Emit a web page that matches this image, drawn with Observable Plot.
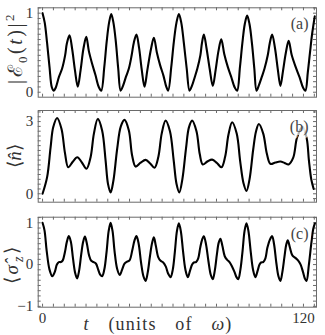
<!DOCTYPE html>
<html>
<head>
<meta charset="utf-8">
<script src="https://cdn.jsdelivr.net/npm/d3@7"></script>
<script src="https://cdn.jsdelivr.net/npm/@observablehq/plot@0.6"></script>
<style>
  html, body { margin: 0; padding: 0; background: #fff; }
  #wrap { position: relative; width: 325px; height: 335px; overflow: hidden; font-family: "Liberation Serif", serif; color: #333; }
  #wrap svg text { font-family: "Liberation Serif", serif !important; }
  .panel { position: absolute; left: 0; }
  .ylab { position: absolute; transform: translate(-50%, -50%) rotate(-90deg); white-space: nowrap; font-family: "Liberation Serif", serif; font-size: 19px; line-height: 1; }
  .xlab { position: absolute; transform: translate(-50%, -50%); white-space: nowrap; font-family: "Liberation Serif", serif; font-size: 18px; line-height: 1; letter-spacing: 1.2px; word-spacing: 13px; }
  i { font-style: italic; }
</style>
</head>
<body>
<div id="wrap"></div>
<script>
// ---- data ----
// panel (a): |E0(t)|^2
const tA = [0, 1.0, 2.1, 3.2, 4.3, 5.2, 6.1, 7.5, 9.0, 10.4, 11.2, 12.4, 13.6, 14.9, 16.2, 17.5, 18.8, 20.1, 21.3, 22.8, 24.3, 25.8, 27.0, 28.4, 29.5, 30.6, 31.6,
            32.6, 33.7, 34.8, 35.9, 37.0, 38.3, 39.7, 41.0, 42.0, 43.2, 44.4, 45.6, 46.9, 48.2, 49.9, 51.2, 52.6, 54.1, 55.6, 56.9, 57.8, 59.2, 60.4, 61.6, 62.7,
            63.8, 65.0, 66.3, 67.6, 68.7, 70.0, 71.2, 72.6, 73.3, 74.2, 75.4, 76.9, 78.3, 79.6, 80.9, 82.2, 83.6, 85.2, 86.7, 88.4, 89.5, 90.8, 91.9, 93.0, 94.1,
            95.2, 96.3, 97.4, 98.4, 99.4, 100.8, 102.1, 103.6, 104.5, 105.6, 106.9, 108.2, 109.4, 110.6, 111.9, 113.2, 114.6, 116.4, 118.2, 119.8, 120.9, 122.0, 123.0, 124.0, 125.2];
const eA = [1.0, 0.88, 0.62, 0.32, 0.06, 0.02, 0.06, 0.19, 0.30, 0.47, 0.62, 0.72, 0.55, 0.28, 0.07, 0.28, 0.55, 0.70, 0.52, 0.36, 0.22, 0.07, 0.02, 0.32, 0.64, 0.88, 0.99,
            0.88, 0.64, 0.30, 0.02, 0.08, 0.19, 0.30, 0.47, 0.63, 0.73, 0.56, 0.29, 0.07, 0.28, 0.55, 0.69, 0.50, 0.34, 0.21, 0.07, 0.02, 0.32, 0.64, 0.88, 0.99,
            0.88, 0.62, 0.30, 0.02, 0.08, 0.19, 0.30, 0.47, 0.62, 0.73, 0.56, 0.29, 0.08, 0.28, 0.52, 0.67, 0.48, 0.32, 0.20, 0.06, 0.02, 0.32, 0.62, 0.86, 0.97,
            0.86, 0.62, 0.30, 0.02, 0.08, 0.19, 0.30, 0.47, 0.62, 0.73, 0.56, 0.29, 0.08, 0.27, 0.50, 0.65, 0.47, 0.32, 0.19, 0.06, 0.02, 0.25, 0.50, 0.74, 0.96];
// panel (b): <n>
const tB = [0, 2.1, 3.7, 4.9, 6.7, 8.7, 10.3, 11.8, 13.9, 16.0, 18.1, 20.2, 22.1, 23.6, 25.4, 27.4, 29.0, 30.1, 31.3,
            32.6, 34.3, 36.0, 37.7, 39.7, 41.2, 42.8, 45.1, 47.4, 49.5, 51.5, 53.3, 54.8, 56.6, 58.6, 60.3, 61.6, 62.9,
            64.3, 66.0, 67.3, 68.8, 70.8, 72.3, 73.7, 75.8, 78.0, 80.2, 82.3, 84.0, 85.5, 87.2, 89.3, 90.9, 92.4, 93.8,
            95.2, 96.9, 98.2, 99.5, 101.5, 103.2, 104.8, 107.1, 109.4, 111.3, 113.2, 115.3, 117.1, 119.6, 121.5, 122.5, 123.6, 124.7];
const nB = [0, 0.69, 1.93, 2.76, 3.15, 2.70, 1.70, 1.10, 1.33, 1.52, 1.30, 1.04, 1.52, 2.49, 3.11, 2.63, 1.38, 0.41, 0.05,
            0.55, 1.85, 2.80, 3.07, 2.63, 1.59, 1.13, 1.29, 1.41, 1.26, 1.08, 1.55, 2.50, 3.04, 2.60, 1.40, 0.42, 0.06,
            0.60, 1.90, 2.75, 3.04, 2.60, 1.65, 1.22, 1.34, 1.42, 1.28, 1.10, 1.55, 2.45, 2.97, 2.50, 1.35, 0.45, 0.12,
            0.60, 1.85, 2.60, 2.90, 2.50, 1.65, 1.24, 1.30, 1.34, 1.28, 1.22, 1.50, 2.35, 2.78, 2.30, 1.40, 0.60, 0.20];
// panel (c): <sigma_z>
const tC = [0, 0.9, 1.9, 3.2, 4.5, 5.6, 6.6, 7.5, 8.5, 9.3, 10.3, 11.2, 12.1, 13.0, 14.0, 15.0, 15.9, 16.8, 17.8, 18.7, 19.5, 20.4, 21.4, 22.4, 23.5, 24.6, 25.6, 26.5, 27.4, 28.4, 29.5, 30.4, 31.3,
            32.2, 33.1, 34.3, 35.5, 36.6, 37.7, 38.9, 40.0, 41.3, 42.3, 43.2, 44.2, 45.3, 46.4, 47.4, 48.4, 49.4, 50.4, 51.2, 52.1, 53.2, 54.3, 55.5, 56.7, 57.8, 58.9, 59.9, 60.9, 61.8, 62.7,
            63.6, 64.6, 65.7, 66.8, 67.8, 68.8, 69.6, 70.6, 71.6, 72.5, 73.4, 74.2, 75.2, 76.3, 77.4, 78.3, 79.2, 80.2, 81.0, 81.8, 82.7, 83.8, 84.8, 86.0, 87.2, 88.3, 89.2, 90.0, 91.0, 92.0, 92.9, 93.8,
            94.7, 95.7, 96.8, 97.9, 98.9, 99.8, 100.5, 101.5, 102.5, 103.4, 104.6, 105.6, 106.5, 107.5, 108.5, 109.4, 110.3, 111.3, 112.1, 112.8, 113.7, 114.9, 116.3, 117.5, 118.7, 119.8, 120.7, 121.4, 122.5, 123.6, 124.5, 125.3];
const sC = [1.0, 0.82, 0.33, -0.12, -0.28, -0.18, 0.0, 0.06, 0.06, 0.10, 0.30, 0.55, 0.68, 0.55, 0.15, -0.20, -0.33, -0.15, 0.25, 0.55, 0.67, 0.50, 0.22, 0.09, 0.06, 0.02, -0.12, -0.24, -0.28, -0.12, 0.33, 0.80, 1.0,
            0.80, 0.33, -0.10, -0.25, -0.12, 0.02, 0.07, 0.10, 0.35, 0.58, 0.68, 0.50, 0.05, -0.28, -0.39, -0.18, 0.20, 0.52, 0.65, 0.45, 0.18, 0.09, 0.05, -0.05, -0.22, -0.30, -0.12, 0.33, 0.80, 0.99,
            0.80, 0.33, -0.12, -0.30, -0.15, 0.0, 0.05, 0.06, 0.15, 0.40, 0.60, 0.68, 0.48, 0.08, -0.25, -0.35, -0.15, 0.25, 0.52, 0.62, 0.45, 0.20, 0.12, 0.06, -0.05, -0.18, -0.30, -0.35, -0.12, 0.33, 0.80, 0.99,
            0.80, 0.33, -0.12, -0.30, -0.15, 0.0, 0.05, 0.06, 0.15, 0.40, 0.60, 0.68, 0.48, 0.05, -0.28, -0.39, -0.18, 0.20, 0.48, 0.58, 0.42, 0.22, 0.16, 0.10, 0.0, -0.18, -0.34, -0.39, 0.0, 0.50, 0.85, 0.99];

const panelLabels = ["(a)", "(b)", "(c)"];
const xTickLabels = [0, 120];
const yTickLabelsA = [0, 1];
const yTickLabelsB = [0, 3];
const yTickLabelsC = [-1, 0, 1];

// ---- drawing ----
const W = 325;
const xDomain = [-2, 126];
const xMinor = d3.range(0, 126, 5);
const frameColor = "#6a6a6a";
const FONT = "Liberation Serif";

function panel({t, v, yDomain, yStep, yLabels, label, height, marginTop, marginBottom, showX}) {
  const data = t.map((d, i) => ({t: d, v: v[i]}));
  const innerH = height - marginTop - marginBottom;
  const marginLeft = 37.7, marginRight = 9;
  const innerW = W - marginLeft - marginRight;
  const yMinor = d3.range(Math.ceil(yDomain[0] / yStep) * yStep, yDomain[1], yStep);
  const tl = 3;
  return Plot.plot({
    width: W, height, marginLeft, marginRight, marginTop, marginBottom,
    x: {domain: xDomain, axis: null},
    y: {domain: yDomain, axis: null},
    style: {fontFamily: FONT, fontSize: "15px", color: "#333", background: "transparent", overflow: "visible"},
    marks: [
      Plot.tickX(xMinor, {x: d => d, stroke: frameColor, insetTop: innerH - tl}),
      Plot.tickX(xMinor, {x: d => d, stroke: frameColor, insetBottom: innerH - tl}),
      Plot.tickY(yMinor, {y: d => d, stroke: frameColor, insetRight: innerW - tl}),
      Plot.tickY(yMinor, {y: d => d, stroke: frameColor, insetLeft: innerW - tl}),
      Plot.frame({stroke: frameColor}),
      Plot.axisY({anchor: "left", ticks: yLabels, tickSize: 0, tickPadding: 5, label: null, fontFamily: FONT, fontSize: 15, tickFormat: d => d < 0 ? "\u2212" + Math.abs(d) : String(d)}),
      showX ? Plot.axisX({anchor: "bottom", ticks: xTickLabels, tickSize: 0, tickPadding: 5, label: null, fontFamily: FONT, fontSize: 15}) : null,
      Plot.line(data, {x: "t", y: "v", curve: "catmull-rom", stroke: "black", strokeWidth: 2.1}),
      Plot.text([label], {text: d => d, frameAnchor: "top-right", dx: -8, dy: 10, fontFamily: FONT, fontSize: 16, fill: "#444", stroke: "white", strokeWidth: 6, strokeOpacity: 0.7})
    ]
  });
}

const wrap = document.getElementById("wrap");
const specs = [
  {top: 0, t: tA, v: eA, yDomain: [-0.063, 1.068], yStep: 1/15, yLabels: yTickLabelsA, label: panelLabels[0], height: 100, marginTop: 7.3, marginBottom: 3.3, showX: false},
  {top: 100, t: tB, v: nB, yDomain: [-0.35, 3.46], yStep: 0.2, yLabels: yTickLabelsB, label: panelLabels[1], height: 105, marginTop: 10, marginBottom: 3.3, showX: false},
  {top: 205, t: tC, v: sC, yDomain: [-1.02, 1.134], yStep: 0.125, yLabels: yTickLabelsC, label: panelLabels[2], height: 130, marginTop: 11.7, marginBottom: 28.3, showX: true}
];
for (const s of specs) {
  const svg = panel(s);
  svg.classList.add("panel");
  svg.style.top = s.top + "px";
  wrap.appendChild(svg);
}

function addLabel(html, cls, x, y, extra) {
  const d = document.createElement("div");
  d.className = cls;
  d.innerHTML = html;
  d.style.left = x + "px";
  d.style.top = y + "px";
  if (extra) Object.assign(d.style, extra);
  wrap.appendChild(d);
}
addLabel("|\u2130<sub style='font-size:13px'>0</sub>(<i>t</i>)|<sup style='font-size:13px'>2</sup>", "ylab", 16, 48, {fontSize: "20px", letterSpacing: "2.5px"});
addLabel("\u27E8<i>n\u0302</i>\u27E9", "ylab", 14, 156);
addLabel("\u27E8<i>\u03C3\u0302</i><sub style='font-size:14px'><i>z</i></sub>\u27E9", "ylab", 14, 264, {letterSpacing: "3px"});
addLabel("<i>t</i> (units of <i>\u03C9</i>)", "xlab", 158, 324);
</script>
</body>
</html>
